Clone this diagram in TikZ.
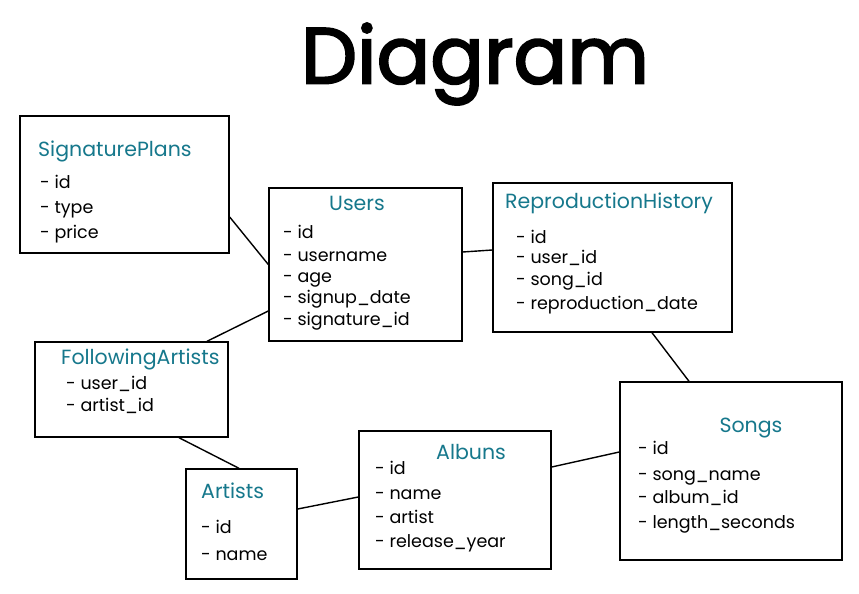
\documentclass[tikz,border=0pt]{standalone}
\usepackage{fontspec}
\setmainfont{Poppins}
\newfontfamily\titlefont[FakeBold=2.5]{Poppins}
\usetikzlibrary{calc}
\definecolor{tealtitle}{RGB}{22,120,140}
\tikzset{
  tbl/.style={draw=black, line width=1.4pt, inner sep=0pt, fill=white},
  tname/.style={anchor=base west, text=tealtitle, font=\fontsize{20.5}{22}\selectfont, inner sep=0pt},
  attr/.style={anchor=base west, text=black, font=\fontsize{17.5}{20}\selectfont, inner sep=0pt},
  rel/.style={draw=black, line width=1.4pt}
}
\begin{document}
\begin{tikzpicture}[x=1pt,y=-1pt]
\useasboundingbox (0,0) rectangle (859,594);
\fill[white] (0,0) rectangle (859,594);

% title
\node[anchor=center, inner sep=0pt] (title) at (475,64) {\resizebox{348pt}{!}{\fontsize{80}{90}\titlefont Diagram}};

% boxes
\node[tbl, minimum width=209pt, minimum height=137pt] (sp) at (124.5,184.5) {};
\node[tbl, minimum width=193pt, minimum height=153pt] (users) at (365.5,264.5) {};
\node[tbl, minimum width=239pt, minimum height=149pt] (rh) at (612.5,257.5) {};
\node[tbl, minimum width=222pt, minimum height=178pt] (songs) at (731,471) {};
\node[tbl, minimum width=192pt, minimum height=138pt] (albuns) at (455,500) {};
\node[tbl, minimum width=111pt, minimum height=110pt] (artists) at (241.5,524) {};
\node[tbl, minimum width=193pt, minimum height=95pt] (fa) at (131.5,389.5) {};

% SignaturePlans
\node[tname] (spT) at (38,156) {SignaturePlans};
\node[attr] (sp1) at (40,188) {- id};
\node[attr] (sp2) at (40,213) {- type};
\node[attr] (sp3) at (40,238) {- price};

% Users
\node[tname, anchor=base] (usT) at (357,210) {Users};
\node[attr] (us1) at (283,238) {- id};
\node[attr] (us2) at (283,261) {- username};
\node[attr] (us3) at (283,282) {- age};
\node[attr] (us4) at (283,303) {- signup\_date};
\node[attr] (us5) at (283,325) {- signature\_id};

% ReproductionHistory
\node[tname] (rhT) at (505,208) {ReproductionHistory};
\node[attr] (rh1) at (516,243) {- id};
\node[attr] (rh2) at (516,263) {- user\_id};
\node[attr] (rh3) at (516,285) {- song\_id};
\node[attr] (rh4) at (516,309) {- reproduction\_date};

% Songs
\node[tname, anchor=base] (soT) at (751,432) {Songs};
\node[attr] (so1) at (638,454) {- id};
\node[attr] (so2) at (638,480) {- song\_name};
\node[attr] (so3) at (638,503) {- album\_id};
\node[attr] (so4) at (638,528) {- length\_seconds};

% FollowingArtists
\node[tname] (faT) at (61,364) {FollowingArtists};
\node[attr] (fa1) at (66,389) {- user\_id};
\node[attr] (fa2) at (66,411) {- artist\_id};

% Artists
\node[tname] (arT) at (201,498) {Artists};
\node[attr] (ar1) at (201,533) {- id};
\node[attr] (ar2) at (201,560) {- name};

% Albuns
\node[tname] (alT) at (436,459) {Albuns};
\node[attr] (al1) at (375,474) {- id};
\node[attr] (al2) at (375,499) {- name};
\node[attr] (al3) at (375,523) {- artist};
\node[attr] (al4) at (375,547) {- release\_year};

% relationships
\draw[rel] ([yshift=-32.5pt]sp.east) -- (users.west);
\draw[rel] ([yshift=-46.5pt]users.west) -- ([xshift=75.5pt]fa.north);
\draw[rel] ([yshift=12.5pt]users.east) -- ([yshift=7.5pt]rh.west);
\draw[rel] ([xshift=39.5pt]rh.south) -- ([xshift=-42pt]songs.north);
\draw[rel] ([yshift=33pt]albuns.east) -- ([yshift=19pt]songs.west);
\draw[rel] ([yshift=15pt]artists.east) -- ([yshift=3pt]albuns.west);
\draw[rel] ([xshift=47.5pt]fa.south) -- ([xshift=-2.5pt]artists.north);
\end{tikzpicture}
\end{document}
